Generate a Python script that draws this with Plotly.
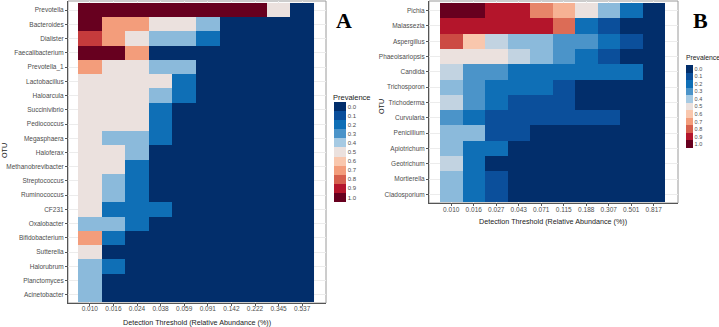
import plotly.graph_objects as go

W, H = 719, 327

# ---------------- data ----------------
a_thresholds = ["0.010", "0.016", "0.024", "0.038", "0.059", "0.091", "0.142", "0.222", "0.345", "0.537"]
a_otus = ["Prevotella", "Bacteroides", "Dialister", "Faecalibacterium", "Prevotella_1", "Lactobacillus",
          "Haloarcula", "Succinivibrio", "Pediococcus", "Megasphaera", "Haloferax", "Methanobrevibacter",
          "Streptococcus", "Ruminococcus", "CF231", "Oxalobacter", "Bifidobacterium", "Sutterella",
          "Halorubrum", "Planctomyces", "Acinetobacter"]
a_prevalence = [
    [1.0, 1.0, 1.0, 1.0, 1.0, 1.0, 1.0, 1.0, 0.5, 0.0],
    [1.0, 0.7, 0.7, 0.5, 0.5, 0.37, 0.0, 0.0, 0.0, 0.0],
    [0.85, 0.7, 0.5, 0.37, 0.37, 0.2, 0.0, 0.0, 0.0, 0.0],
    [1.0, 1.0, 0.7, 0.0, 0.0, 0.0, 0.0, 0.0, 0.0, 0.0],
    [0.7, 0.5, 0.5, 0.37, 0.37, 0.0, 0.0, 0.0, 0.0, 0.0],
    [0.5, 0.5, 0.5, 0.5, 0.2, 0.0, 0.0, 0.0, 0.0, 0.0],
    [0.5, 0.5, 0.5, 0.37, 0.2, 0.0, 0.0, 0.0, 0.0, 0.0],
    [0.5, 0.5, 0.5, 0.2, 0.0, 0.0, 0.0, 0.0, 0.0, 0.0],
    [0.5, 0.5, 0.5, 0.2, 0.0, 0.0, 0.0, 0.0, 0.0, 0.0],
    [0.5, 0.37, 0.37, 0.2, 0.0, 0.0, 0.0, 0.0, 0.0, 0.0],
    [0.5, 0.5, 0.37, 0.0, 0.0, 0.0, 0.0, 0.0, 0.0, 0.0],
    [0.5, 0.5, 0.2, 0.0, 0.0, 0.0, 0.0, 0.0, 0.0, 0.0],
    [0.5, 0.37, 0.2, 0.0, 0.0, 0.0, 0.0, 0.0, 0.0, 0.0],
    [0.5, 0.37, 0.2, 0.0, 0.0, 0.0, 0.0, 0.0, 0.0, 0.0],
    [0.5, 0.2, 0.2, 0.2, 0.0, 0.0, 0.0, 0.0, 0.0, 0.0],
    [0.37, 0.37, 0.2, 0.0, 0.0, 0.0, 0.0, 0.0, 0.0, 0.0],
    [0.7, 0.2, 0.0, 0.0, 0.0, 0.0, 0.0, 0.0, 0.0, 0.0],
    [0.5, 0.0, 0.0, 0.0, 0.0, 0.0, 0.0, 0.0, 0.0, 0.0],
    [0.37, 0.2, 0.0, 0.0, 0.0, 0.0, 0.0, 0.0, 0.0, 0.0],
    [0.37, 0.0, 0.0, 0.0, 0.0, 0.0, 0.0, 0.0, 0.0, 0.0],
    [0.37, 0.0, 0.0, 0.0, 0.0, 0.0, 0.0, 0.0, 0.0, 0.0],
]

b_thresholds = ["0.010", "0.016", "0.027", "0.043", "0.071", "0.115", "0.188", "0.307", "0.501", "0.817"]
b_otus = ["Pichia", "Malassezia", "Aspergillus", "Phaeoisariopsis", "Candida", "Trichosporon",
          "Trichoderma", "Curvularia", "Penicillium", "Apiotrichum", "Geotrichum", "Mortierella",
          "Cladosporium"]
b_prevalence = [
    [1.0, 1.0, 0.9, 0.9, 0.74, 0.65, 0.5, 0.37, 0.2, 0.0],
    [0.9, 0.9, 0.9, 0.9, 0.9, 0.78, 0.2, 0.1, 0.0, 0.0],
    [0.83, 0.6, 0.44, 0.37, 0.37, 0.3, 0.3, 0.2, 0.1, 0.0],
    [0.5, 0.5, 0.5, 0.44, 0.37, 0.3, 0.2, 0.1, 0.0, 0.0],
    [0.44, 0.3, 0.3, 0.2, 0.2, 0.2, 0.2, 0.2, 0.2, 0.0],
    [0.37, 0.3, 0.2, 0.2, 0.2, 0.1, 0.0, 0.0, 0.0, 0.0],
    [0.44, 0.3, 0.2, 0.1, 0.1, 0.1, 0.0, 0.0, 0.0, 0.0],
    [0.3, 0.2, 0.1, 0.1, 0.1, 0.1, 0.1, 0.1, 0.0, 0.0],
    [0.37, 0.37, 0.1, 0.1, 0.0, 0.0, 0.0, 0.0, 0.0, 0.0],
    [0.37, 0.2, 0.2, 0.0, 0.0, 0.0, 0.0, 0.0, 0.0, 0.0],
    [0.44, 0.2, 0.0, 0.0, 0.0, 0.0, 0.0, 0.0, 0.0, 0.0],
    [0.37, 0.2, 0.1, 0.0, 0.0, 0.0, 0.0, 0.0, 0.0, 0.0],
    [0.37, 0.2, 0.1, 0.0, 0.0, 0.0, 0.0, 0.0, 0.0, 0.0],
]

legend_levels = ["0.0", "0.1", "0.2", "0.3", "0.4", "0.5", "0.6", "0.7", "0.8", "0.9", "1.0"]
level_colors = ["#022e6b", "#0b4f9b", "#0f6fb6", "#4b94c9", "#a6cae3", "#ebe1de",
                "#f9c7ad", "#f39d7b", "#d6604d", "#b4152b", "#67001f"]

# ---------------- styling ----------------
FONT = "Liberation Sans, Arial, sans-serif"
TICK_COL = "#4d4d4d"
AXIS_COL = "#555555"
GRID_COL = "#ececec"

cont_scale = [[i / 10, c] for i, c in enumerate(level_colors)]

# stepped scale for legend (0.0 at top)
n = len(level_colors)
step_scale = []
for i in range(n):
    c = level_colors[n - 1 - i]
    step_scale.append([i / n, c])
    step_scale.append([(i + 1) / n, c])
legend_tickvals = [i + 0.5 for i in range(n)]
legend_ticktext = [legend_levels[n - 1 - i] for i in range(n)]


def px_x(p):
    return p / W


def px_y(p):
    return (H - p) / H


fig = go.Figure()

fig.add_trace(go.Heatmap(z=a_prevalence, x=a_thresholds, y=a_otus, xaxis="x", yaxis="y",
                         colorscale=cont_scale, zmin=0, zmax=1, showscale=False))
fig.add_trace(go.Heatmap(z=b_prevalence, x=b_thresholds, y=b_otus, xaxis="x2", yaxis="y2",
                         colorscale=cont_scale, zmin=0, zmax=1, showscale=False))


def legend_trace(xax, yax, xpos, ytop, length, thick, fsize):
    return go.Scatter(
        x=[None], y=[None], mode="markers", xaxis=xax, yaxis=yax, showlegend=False,
        marker=dict(color=[0], cmin=0, cmax=n, colorscale=step_scale, showscale=True,
                    colorbar=dict(
                        x=xpos, xanchor="left", xpad=0,
                        y=ytop, yanchor="top", ypad=0,
                        len=length, lenmode="pixels", thickness=thick,
                        outlinewidth=0,
                        tickvals=legend_tickvals, ticktext=legend_ticktext,
                        ticks="", ticklabelposition="outside",
                        tickfont=dict(family=FONT, size=fsize, color=TICK_COL),
                    )))


fig.add_trace(legend_trace("x", "y", px_x(334), px_y(102), 100, 12, 6))
fig.add_trace(legend_trace("x2", "y2", px_x(686), px_y(65), 83, 7, 5.5))

axis_common = dict(showline=True, linecolor=AXIS_COL, linewidth=1, ticks="outside",
                   ticklen=2, tickcolor=AXIS_COL, showgrid=True, gridcolor=GRID_COL,
                   gridwidth=0.6, zeroline=False, type="category",
                   tickfont=dict(family=FONT, size=6.5, color=TICK_COL))

fig.update_layout(
    width=W, height=H, margin=dict(l=0, r=0, t=0, b=0),
    paper_bgcolor="white", plot_bgcolor="white", showlegend=False,
    xaxis=dict(axis_common, domain=[px_x(68), px_x(326)], range=[-0.924, 10.008],
               anchor="y", ticklabelstandoff=-3),
    yaxis=dict(axis_common, domain=[px_y(303), px_y(1)], range=[20.57, -0.64],
               anchor="x"),
    xaxis2=dict(axis_common, domain=[px_x(429), px_x(678)], range=[-0.989, 10.078],
                anchor="y2", ticklabelstandoff=-2),
    yaxis2=dict(axis_common, domain=[px_y(203), px_y(1)], range=[12.565, -0.63],
                anchor="x2"),
)

# panel borders (grey frame)
for xr, yr in (("x domain", "y domain"), ("x2 domain", "y2 domain")):
    fig.add_shape(type="rect", xref=xr, yref=yr, x0=0, x1=1, y0=0, y1=1,
                  line=dict(color="#9a9a9a", width=1), layer="below")

title_font = dict(family=FONT, size=7.2, color="#1a1a1a")
ann = [
    dict(text="Detection Threshold (Relative Abundance (%))", x=px_x(197), y=px_y(322),
         xanchor="center", font=title_font),
    dict(text="OTU", x=px_x(4), y=px_y(151), textangle=-90, xanchor="center", font=title_font),
    dict(text="Detection Threshold (Relative Abundance (%))", x=px_x(553), y=px_y(222),
         xanchor="center", font=title_font),
    dict(text="OTU", x=px_x(381), y=px_y(107), textangle=-90, xanchor="center", font=title_font),
    dict(text="Prevalence", x=px_x(332), y=px_y(97), xanchor="left",
         font=dict(family=FONT, size=7.5, color="#1a1a1a")),
    dict(text="Prevalence", x=px_x(685), y=px_y(58), xanchor="left",
         font=dict(family=FONT, size=6.8, color="#1a1a1a")),
    dict(text="<b>A</b>", x=px_x(344), y=px_y(20), xanchor="center",
         font=dict(family="Liberation Serif, Times New Roman, serif", size=22, color="#000")),
    dict(text="<b>B</b>", x=px_x(700), y=px_y(20), xanchor="center",
         font=dict(family="Liberation Serif, Times New Roman, serif", size=22, color="#000")),
]
for a in ann:
    fig.add_annotation(xref="paper", yref="paper", showarrow=False, yanchor="middle",
                       borderpad=0, **a)

fig.write_html("out.html", config={"displayModeBar": False},
               post_script="document.body.style.margin='0';")
